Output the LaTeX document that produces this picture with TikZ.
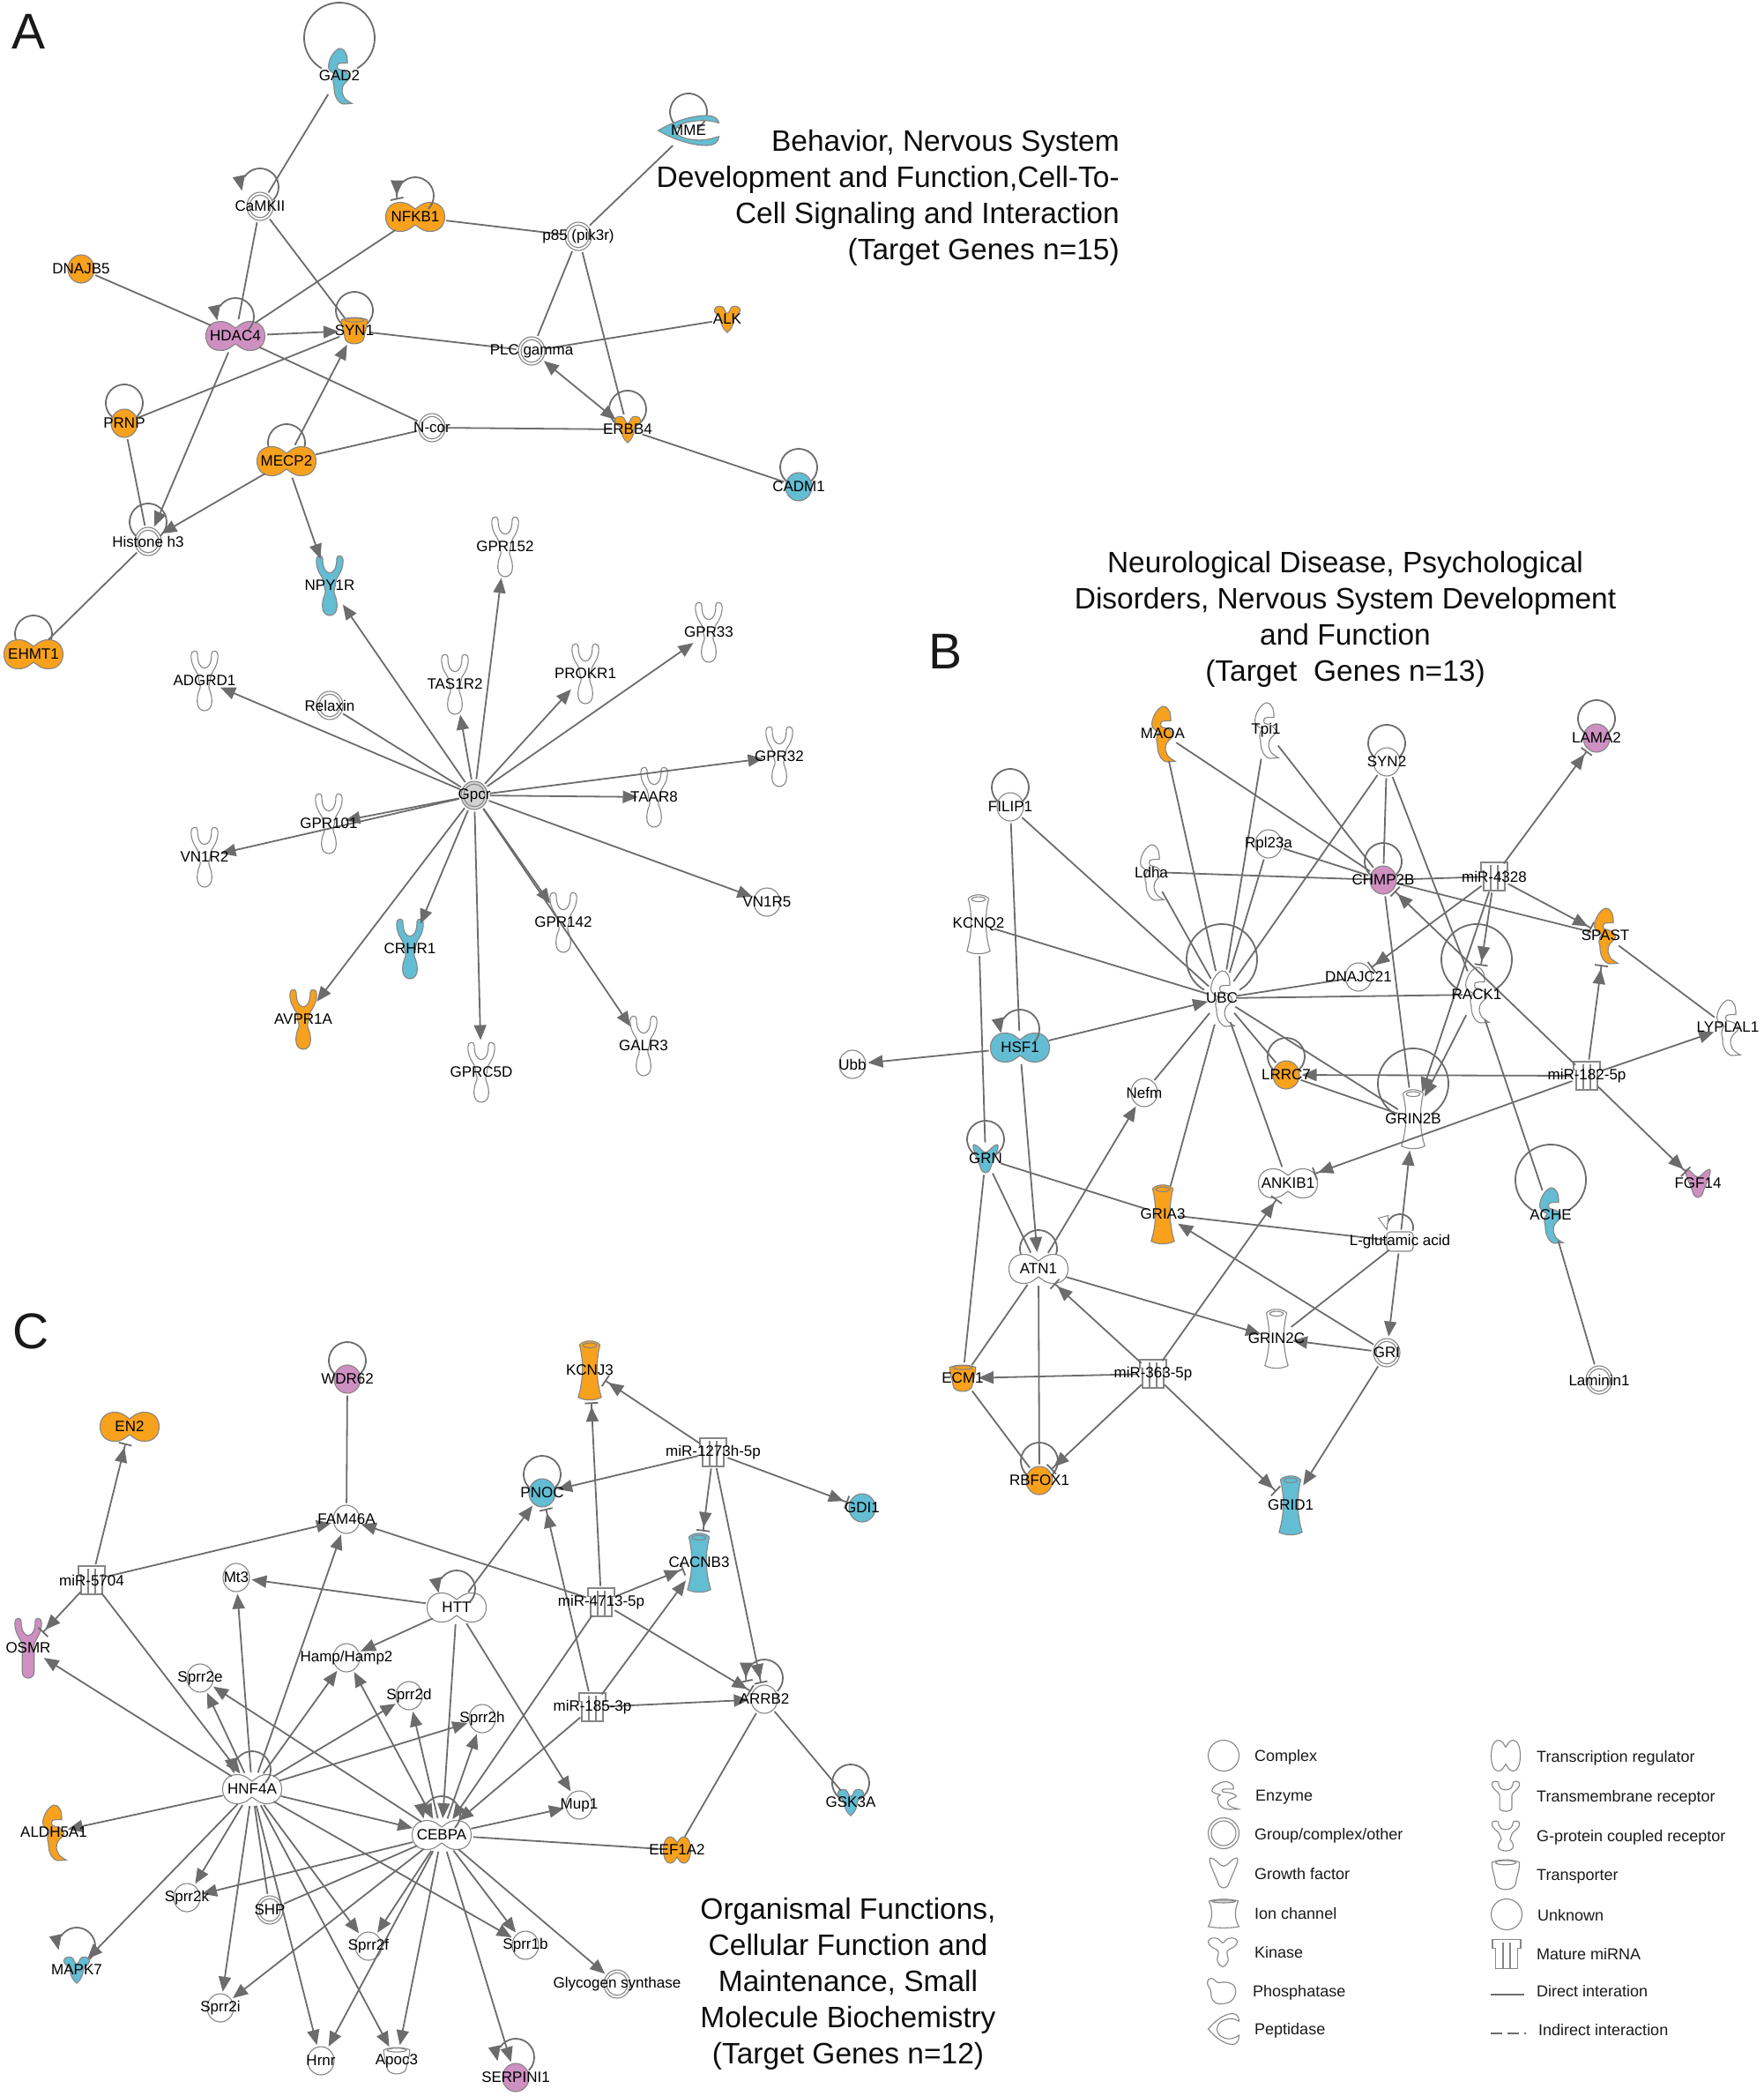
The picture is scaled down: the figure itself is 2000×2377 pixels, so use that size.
\documentclass[tikz,border=0pt]{standalone}
\usepackage{fontspec}
\setmainfont{Liberation Sans}
\usetikzlibrary{arrows.meta,bending,shapes.geometric,calc}
\definecolor{og}{HTML}{F7A11D}
\definecolor{bl}{HTML}{63BDD3}
\definecolor{pk}{HTML}{CE8FC1}
\definecolor{gy}{HTML}{D2D2D2}
\definecolor{ec}{HTML}{6C6C6C}
\definecolor{sc}{HTML}{868686}
\pgfdeclarelayer{lp}\pgfdeclarelayer{sh}\pgfdeclarelayer{ed}
\pgfsetlayers{lp,sh,ed,main}
\tikzset{
 shp/.style={draw=sc,line width=1.1pt},
 anch/.style={ellipse,inner sep=0pt,outer sep=0pt},
 lbl/.style={font=\fontsize{17}{17}\selectfont,inner sep=0pt,text=black},
 leg/.style={font=\fontsize{18}{18}\selectfont,inner sep=0pt,anchor=west,text=black!90},
 ttl/.style={font=\fontsize{33.5}{41}\selectfont,inner sep=0pt,text=black!95},
 letr/.style={font=\fontsize{57}{57}\selectfont,inner sep=0pt,text=black!90},
 ln/.style={draw=ec,line width=1.8pt},
 ar/.style={ln,-{Triangle[length=17pt,width=14pt,fill=ec]}},
 art/.style={ln,-{Triangle[length=17pt,width=14pt,fill=ec,sep=3pt] Bar[width=15pt,length=1.2pt,fill=ec]}},
 da/.style={ln,{Triangle[length=17pt,width=14pt,fill=ec]}-{Triangle[length=17pt,width=14pt,fill=ec]}},
 lpl/.style={draw=ec,line width=1.8pt},
 lar/.style={lpl,-{Triangle[length=17pt,width=14pt,fill=ec,flex=0]}},
 lat/.style={lpl,-{Triangle[length=17pt,width=14pt,fill=ec,flex=0,sep=3pt] Bar[width=15pt,length=1.2pt,fill=ec]}},
 lop/.style={lpl,-{Triangle[length=17pt,width=13pt,fill=white,color=sc,line width=1pt,flex=0]}},
}
% sizes
\def\wCir{30}\def\hCir{32}
\def\wGrp{30}\def\hGrp{32}
\def\wTR{67}\def\hTR{33}
\def\wTW{31}\def\hTW{30}
\def\wGP{32}\def\hGP{68}
\def\wTM{32}\def\hTM{68}
\def\wEnz{27}\def\hEnz{64}
\def\wIon{31}\def\hIon{68}
\def\wTra{31}\def\hTra{31}
\def\wKin{30}\def\hKin{30}
\def\wGF{31}\def\hGF{32}
\def\wPep{69}\def\hPep{34}
\def\wMi{30}\def\hMi{32}
\def\wChem{30}\def\hChem{22}
% shapes in a unit box
\newcommand{\shCir}[1]{\path[shp,fill=#1] (0,0) circle [x radius=1,y radius=1];}
\newcommand{\shGrp}[1]{\path[shp,fill=#1] (0,0) circle [x radius=1,y radius=1];\path[shp] (0,0) circle [x radius=.8,y radius=.8];}
\newcommand{\shTR}[1]{\path[shp,fill=#1] (0,-.55) .. controls (-.08,-.62) and (-.22,-1) .. (-.5,-1) .. controls (-.85,-1) and (-1,-.5) .. (-1,0) .. controls (-1,.5) and (-.85,1) .. (-.5,1) .. controls (-.22,1) and (-.08,.62) .. (0,.55) .. controls (.08,.62) and (.22,1) .. (.5,1) .. controls (.85,1) and (1,.5) .. (1,0) .. controls (1,-.5) and (.85,-1) .. (.5,-1) .. controls (.22,-1) and (.08,-.62) .. (0,-.55) -- cycle;}
\newcommand{\shTW}[1]{\shTR{#1}}
\newcommand{\shTM}[1]{\path[shp,fill=#1] (0,-.42) .. controls (-.3,-.42) and (-.5,-.6) .. (-.5,-.9) .. controls (-.5,-1.03) and (-.95,-1.03) .. (-.95,-.85) .. controls (-.95,-.4) and (-.42,-.3) .. (-.42,-.05) -- (-.42,.8) .. controls (-.42,1.07) and (.42,1.07) .. (.42,.8) -- (.42,-.05) .. controls (.42,-.3) and (.95,-.4) .. (.95,-.85) .. controls (.95,-1.03) and (.5,-1.03) .. (.5,-.9) .. controls (.5,-.6) and (.3,-.42) .. (0,-.42) -- cycle;}
\newcommand{\shGP}[1]{\path[shp,fill=#1] (0,-.42) .. controls (-.3,-.42) and (-.5,-.6) .. (-.5,-.9) .. controls (-.5,-1.03) and (-.95,-1.03) .. (-.95,-.85) .. controls (-.95,-.4) and (-.42,-.3) .. (-.42,-.1) .. controls (-.42,.05) and (-.3,.1) .. (-.3,.2) .. controls (-.3,.3) and (-.52,.4) .. (-.52,.7) .. controls (-.52,1.1) and (.52,1.1) .. (.52,.7) .. controls (.52,.4) and (.3,.3) .. (.3,.2) .. controls (.3,.1) and (.42,.05) .. (.42,-.1) .. controls (.42,-.3) and (.95,-.4) .. (.95,-.85) .. controls (.95,-1.03) and (.5,-1.03) .. (.5,-.9) .. controls (.5,-.6) and (.3,-.42) .. (0,-.42) -- cycle;}
\newcommand{\shEnz}[1]{\path[shp,fill=#1] (0,-.97) .. controls (-.45,-.9) and (-.92,-.6) .. (-.92,-.32) .. controls (-.92,-.2) and (-.6,-.1) .. (-.3,-.05) .. controls (-.6,.1) and (-.55,.3) .. (-.45,.37) .. controls (-.45,.6) and (-.35,.7) .. (-.3,.74) .. controls (-.1,.95) and (.2,1) .. (.37,1) -- (1.05,.98) .. controls (.7,.9) and (.4,.8) .. (.37,.74) .. controls (.2,.6) and (.2,.5) .. (.25,.42) .. controls (.35,.25) and (.7,.2) .. (.87,.07) .. controls (.8,-.05) and (.65,-.12) .. (.5,-.16) .. controls (.3,-.22) and (.05,-.2) .. (-.12,-.24) .. controls (-.2,-.3) and (-.2,-.38) .. (-.12,-.42) .. controls (.1,-.46) and (.4,-.45) .. (.67,-.45) .. controls (.68,-.65) and (.6,-.8) .. (.5,-.83) .. controls (.35,-.95) and (.15,-.98) .. (0,-.97) -- cycle;}
\newcommand{\shIon}[1]{\path[shp,fill=#1] (-.75,-.85) .. controls (-.4,-1.02) and (.4,-1.02) .. (.75,-.85) .. controls (.45,-.3) and (.45,.3) .. (.85,.9) .. controls (.4,1.02) and (-.4,1.02) .. (-.85,.9) .. controls (-.45,.3) and (-.45,-.3) .. (-.75,-.85) -- cycle;\path[shp] (0,-.83) circle [x radius=.5,y radius=.08];}
\newcommand{\shIonL}[1]{\path[shp,fill=#1] (-.95,-.85) .. controls (-.4,-1.02) and (.4,-1.02) .. (.95,-.85) .. controls (.7,-.3) and (.7,.4) .. (1,.9) .. controls (.4,1.02) and (-.4,1.02) .. (-1,.9) .. controls (-.7,.4) and (-.7,-.3) .. (-.95,-.85) -- cycle;\path[shp,fill=gy] (0,-.83) circle [x radius=.75,y radius=.1];}
\newcommand{\shTra}[1]{\path[shp,fill=#1] (-.95,-.8) .. controls (-.4,-1.02) and (.4,-1.02) .. (.95,-.8) .. controls (.95,-.2) and (.7,.2) .. (.7,.55) .. controls (.6,1.1) and (-.6,1.1) .. (-.7,.55) .. controls (-.7,.2) and (-.95,-.2) .. (-.95,-.8) -- cycle;\path[shp] (0,-.78) circle [x radius=.7,y radius=.14];}
\newcommand{\shKin}[1]{\path[shp,fill=#1] (0,-.45) .. controls (-.12,-.45) and (-.2,-.7) .. (-.28,-.85) .. controls (-.35,-1.05) and (-.95,-1.05) .. (-.98,-.7) .. controls (-.98,-.4) and (-.6,-.3) .. (-.5,-.05) .. controls (-.5,.3) and (-.35,.75) .. (0,1) .. controls (.35,.75) and (.5,.3) .. (.5,-.05) .. controls (.6,-.3) and (.98,-.4) .. (.98,-.7) .. controls (.95,-1.05) and (.35,-1.05) .. (.28,-.85) .. controls (.2,-.7) and (.12,-.45) .. (0,-.45) -- cycle;}
\newcommand{\shKinL}[1]{\path[shp,fill=#1] (0,-.65) .. controls (-.15,-.65) and (-.2,-1) .. (-.55,-.98) .. controls (-1,-1) and (-1.05,-.75) .. (-.95,-.55) .. controls (-.8,-.25) and (-.4,-.3) .. (-.3,-.05) .. controls (-.25,.2) and (-.45,.4) .. (-.35,.65) .. controls (-.3,.85) and (-.1,.95) .. (0,1) .. controls (.1,.95) and (.3,.85) .. (.35,.65) .. controls (.45,.4) and (.25,.2) .. (.3,-.05) .. controls (.4,-.3) and (.8,-.25) .. (.95,-.55) .. controls (1.05,-.75) and (1,-1) .. (.55,-.98) .. controls (.2,-1) and (.15,-.65) .. (0,-.65) -- cycle;}
\newcommand{\shGF}[1]{\path[shp,fill=#1] (-.85,-1) .. controls (-.5,-1) and (-.3,-.45) .. (0,-.45) .. controls (.3,-.45) and (.5,-1) .. (.85,-1) .. controls (1.1,-.9) and (.5,.2) .. (.35,.7) .. controls (.2,1.1) and (-.2,1.1) .. (-.35,.7) .. controls (-.5,.2) and (-1.1,-.9) .. (-.85,-1) -- cycle;}
\newcommand{\shPep}[1]{\path[shp,fill=#1] (-1,0) .. controls (-.5,-.6) and (.1,-1) .. (.6,-1) .. controls (.85,-1) and (1,-.75) .. (1,-.5) .. controls (.7,-.7) and (.4,-.7) .. (.1,-.6) .. controls (-.6,-.4) and (-.6,.4) .. (.1,.6) .. controls (.4,.7) and (.7,.6) .. (1,.4) .. controls (1,.75) and (.85,1) .. (.6,1) .. controls (.1,1) and (-.5,.6) .. (-1,0) -- cycle;}
\newcommand{\shPho}[1]{\path[shp,fill=#1] (-.75,-1) .. controls (-.5,-1) and (-.5,-.7) .. (-.2,-.65) .. controls (.4,-.8) and (.95,-.6) .. (.95,0) .. controls (.95,.7) and (.5,1) .. (-.1,1) .. controls (-.6,1) and (-.75,.6) .. (-.75,.1) .. controls (-.75,-.2) and (-1,-.4) .. (-1,-.65) .. controls (-1,-.85) and (-.9,-1) .. (-.75,-1) -- cycle;}
\newcommand{\shMi}[1]{\path[shp,fill=#1] (-1,-1) -- (1,-1) -- (1,-.4) -- (.8,-.4) -- (.8,1) -- (.3,1) -- (.3,-.75) -- (.25,-.75) -- (.25,1) -- (-.25,1) -- (-.25,-.75) -- (-.3,-.75) -- (-.3,1) -- (-.8,1) -- (-.8,-.4) -- (-1,-.4) -- cycle;}
\newcommand{\shChem}[1]{\path[shp,fill=#1,rounded corners=4pt] (-1,-1) rectangle (1,1);}
% shape only: type, x, y, w, h, fill
\newcommand{\gs}[6]{\begin{pgfonlayer}{sh}\begin{scope}[shift={(#2,#3)},xscale=#4/2,yscale=#5/2]\csname sh#1\endcsname{#6}\end{scope}\end{pgfonlayer}}
% node: id, x, y, type, fill, label
\newcommand{\gn}[6]{\gs{#4}{#2}{#3}{\csname w#4\endcsname}{\csname h#4\endcsname}{#5}\node[anch,minimum width={\csname w#4\endcsname pt+5pt},minimum height={\csname h#4\endcsname pt+5pt},label={[lbl]center:#6}] (#1) at (#2,#3) {};}
% self loops: id, dy, r
\newcommand{\selfl}[3]{\begin{pgfonlayer}{lp}\draw[lpl] ($(#1)+(0,#2)$) ++(120:#3) arc (120:420:#3);\end{pgfonlayer}}
\newcommand{\selfa}[3]{\begin{pgfonlayer}{ed}\draw[lar] ($(#1)+(0,#2)$) ++(45:#3) arc (45:-192:#3);\end{pgfonlayer}}
\newcommand{\selft}[3]{\begin{pgfonlayer}{ed}\draw[lat] ($(#1)+(0,#2)$) ++(45:#3) arc (45:-192:#3);\end{pgfonlayer}}
\newcommand{\selfo}[3]{\begin{pgfonlayer}{ed}\draw[lop] ($(#1)+(0,#2)$) ++(15:#3) arc (15:-195:#3);\end{pgfonlayer}}
\newcommand{\lnk}[2]{\begin{pgfonlayer}{ed}\foreach \a/\b in {#2} \draw[#1] (\a) -- (\b);\end{pgfonlayer}}
\begin{document}
\begin{tikzpicture}[x=1pt,y=-1pt]
\useasboundingbox (0,0) rectangle (2000,2377);
% ---- panel letters and titles
\node[letr] (la) at (33,36) {A};
\node[letr] (lb) at (1072,739) {B};
\node[letr] (lc) at (35,1510) {C};
\node[ttl,align=right,anchor=east] (ta) at (1270,224) {Behavior, Nervous System\\Development and Function,Cell-To-\\Cell Signaling and Interaction\\(Target Genes n=15)};
\node[ttl,align=center] (tb) at (1526,702) {Neurological Disease, Psychological\\Disorders, Nervous System Development\\and Function\\(Target\ \ Genes n=13)};
\node[ttl,align=center] (tc) at (962,2250) {Organismal Functions,\\Cellular Function and\\Maintenance, Small\\Molecule Biochemistry\\(Target Genes n=12)};
% ---- panel A
\gn{gad}{385}{86}{Enz}{bl}{GAD2}
\gn{mme}{781}{148}{Pep}{bl}{MME}
\gn{cam}{295}{234}{Grp}{white}{CaMKII}
\gn{nfkb}{471}{246}{TR}{og}{NFKB1}
\gn{dnajb}{92}{305}{Cir}{og}{DNAJB5}
\gn{pe}{656}{268}{Grp}{white}{p85 (pik3r)}
\gn{hdac}{267}{381}{TR}{pk}{HDAC4}
\gn{syn1}{402}{375}{Tra}{og}{SYN1}
\gn{plc}{603}{398}{Grp}{white}{PLC gamma}
\gn{alk}{825}{362}{Kin}{og}{ALK}
\gn{prnp}{141}{480}{Cir}{og}{PRNP}
\gn{mecp}{325}{523}{TR}{og}{MECP2}
\gn{ncor}{490}{485}{Grp}{white}{N-cor}
\gn{erbb}{712}{487}{Kin}{og}{ERBB4}
\gn{cadm}{906}{552}{Cir}{bl}{CADM1}
\gn{hthree}{168}{614}{Grp}{white}{Histone h3}
\gn{npy}{374}{664}{GP}{bl}{NPY1R}
\gn{gprb}{573}{620}{GP}{white}{GPR152}
\gn{gprc}{804}{717}{GP}{white}{GPR33}
\gn{ehmt}{38}{742}{TR}{og}{EHMT1}
\gn{adg}{232}{772}{GP}{white}{ADGRD1}
\gn{relax}{374}{800}{Grp}{white}{Relaxin}
\gn{tas}{516}{776}{GP}{white}{TAS1R2}
\gn{prok}{664}{764}{GP}{white}{PROKR1}
\gn{gprd}{884}{858}{GP}{white}{GPR32}
\gn{taar}{742}{904}{GP}{white}{TAAR8}
\gn{gpcr}{538}{902}{Grp}{gy}{Gpcr}
\gn{gpra}{373}{934}{GP}{white}{GPR101}
\gn{vntwo}{232}{972}{GP}{white}{VN1R2}
\gn{vnfive}{870}{1023}{Cir}{white}{VN1R5}
\gn{gpre}{639}{1046}{GP}{white}{GPR142}
\gn{crhr}{465}{1076}{GP}{bl}{CRHR1}
\gn{avpr}{344}{1156}{GP}{og}{AVPR1A}
\gn{gprcf}{546}{1216}{GP}{white}{GPRC5D}
\gn{galr}{730}{1186}{GP}{white}{GALR3}
\selfl{gad}{-43}{40}\selfl{mme}{-21}{21}\selfa{cam}{-22}{21}\selft{nfkb}{-24}{21}
\selfa{hdac}{-22}{21}\selfl{syn1}{-23}{21}\selfl{prnp}{-23}{21}\selfl{mecp}{-21}{21}
\selfl{erbb}{-23}{21}\selfl{cadm}{-22}{21}\selfl{hthree}{-22}{21}\selfl{ehmt}{-23}{21}
\lnk{ln}{gad/cam,cam/hdac,cam/syn1,nfkb/hdac,nfkb/pe,mme/pe,dnajb/hdac,hdac/ncor,syn1/plc,prnp/syn1,mecp/ncor,prnp/hthree,hthree/ehmt,plc/alk,pe/plc,pe/erbb,ncor/erbb,erbb/cadm,relax/gpcr}
\lnk{ar}{hdac/syn1,hdac/hthree,mecp/syn1,mecp/hthree,mecp/npy,gpcr/npy,gpcr/adg,gpcr/tas,gpcr/gprb,gpcr/prok,gpcr/gprc,gpcr/gprd,gpcr/taar,gpcr/gpra,gpcr/vntwo,gpcr/avpr,gpcr/crhr,gpcr/gprcf,gpcr/gpre,gpcr/galr,gpcr/vnfive}
\lnk{da}{plc/erbb}
% ---- panel B
\gn{maoa}{1319}{832}{Enz}{og}{MAOA}
\gn{tpi}{1436}{828}{Enz}{white}{Tpi1}
\gn{syntwo}{1573}{864}{Cir}{white}{SYN2}
\gn{lama}{1811}{837}{Cir}{pk}{LAMA2}
\gn{filip}{1146}{915}{Cir}{white}{FILIP1}
\gn{rpl}{1439}{957}{Cir}{white}{Rpl23a}
\gn{ldha}{1306}{989}{Enz}{white}{Ldha}
\gn{chmp}{1569}{998}{Cir}{pk}{CHMP2B}
\gn{mirft}{1695}{994}{Mi}{white}{miR-4328}
\gn{kcnq}{1110}{1048}{Ion}{white}{KCNQ2}
\gn{spast}{1821}{1061}{Enz}{og}{SPAST}
\gn{ubc}{1386}{1132}{Enz}{white}{UBC}
\gn{dnajc}{1541}{1108}{Cir}{white}{DNAJC21}
\gn{rack}{1675}{1128}{Enz}{white}{RACK1}
\gn{lyp}{1960}{1165}{Enz}{white}{LYPLAL1}
\gn{hsf}{1157}{1188}{TR}{bl}{HSF1}
\gn{lrrc}{1459}{1219}{Cir}{og}{LRRC7}
\gn{mirof}{1800}{1220}{Mi}{white}{miR-182-5p}
\gn{nefm}{1298}{1239}{Cir}{white}{Nefm}
\gn{grinb}{1603}{1269}{Ion}{white}{GRIN2B}
\gn{ubb}{967}{1207}{Cir}{white}{Ubb}
\gn{grn}{1118}{1314}{GF}{bl}{GRN}
\gn{ankib}{1461}{1342}{TR}{white}{ANKIB1}
\gn{fgf}{1926}{1342}{GF}{pk}{FGF14}
\gn{gria}{1319}{1377}{Ion}{og}{GRIA3}
\gn{ache}{1759}{1378}{Enz}{bl}{ACHE}
\gn{lglu}{1588}{1408}{Chem}{white}{L-glutamic acid}
\gn{atn}{1178}{1439}{TR}{white}{ATN1}
\gn{grinc}{1448}{1518}{Ion}{white}{GRIN2C}
\gn{gri}{1573}{1534}{Grp}{white}{GRI}
\gn{ecm}{1092}{1563}{Tra}{og}{ECM1}
\gn{mirts}{1308}{1558}{Mi}{white}{miR-363-5p}
\gn{lam}{1814}{1565}{Grp}{white}{Laminin1}
\gn{rbf}{1179}{1679}{Cir}{og}{RBFOX1}
\gn{grid}{1464}{1707}{Ion}{bl}{GRID1}
\gn{gdi}{978}{1710}{Cir}{bl}{GDI1}
\selfl{syntwo}{-21}{21}\selfl{lama}{-22}{21}\selfl{filip}{-22}{21}\selfl{chmp}{-21}{21}
\selfl{ubc}{-44}{40}\selfl{rack}{-40}{40}\selfa{hsf}{-21}{22}\selfl{lrrc}{-21}{21}
\selfl{grinb}{-40}{40}\selfl{grn}{-22}{21}\selfl{ache}{-40}{40}\selfo{lglu}{-16}{15}
\selfl{atn}{-23}{21}\selfl{rbf}{-22}{21}
\lnk{ln}{maoa/ubc,maoa/chmp,tpi/ubc,tpi/chmp,syntwo/ubc,syntwo/chmp,syntwo/rack,rpl/ubc,rpl/chmp,ldha/ubc,ldha/chmp,chmp/grinb,chmp/spast,lyp/spast,mirft/chmp,filip/ubc,filip/hsf,kcnq/ubc,kcnq/grn,ubc/dnajc,ubc/rack,ubc/lrrc,ubc/grinb,ubc/nefm,ubc/gria,ubc/ankib,rack/ache,lrrc/grinb,grn/gria,gria/lglu,grn/atn,grn/ecm,atn/ecm,atn/rbf,ecm/rbf,lglu/grinc,ache/lam}
\lnk{ar}{mirof/lyp,mirof/lrrc,rack/grinb,mirft/grinb,hsf/ubc,hsf/ubb,hsf/atn,atn/nefm,atn/grinc,mirts/ecm,gri/grinc,gri/gria,gri/grid,lglu/grinb,lglu/gri}
\lnk{art}{mirft/lama,mirft/spast,mirft/dnajc,mirft/rack,mirof/chmp,mirof/spast,mirof/ankib,mirof/fgf,mirts/atn,mirts/ankib,mirts/rbf,mirts/grid}
% ---- panel C
\gn{wdr}{394}{1564}{Cir}{pk}{WDR62}
\gn{kcnj}{669}{1554}{Ion}{og}{KCNJ3}
\gn{entwo}{147}{1618}{TR}{og}{EN2}
\gn{mirtw}{809}{1647}{Mi}{white}{miR-1273h-5p}
\gn{pnoc}{615}{1693}{Cir}{bl}{PNOC}
\gn{fam}{393}{1723}{Cir}{white}{FAM46A}
\gn{cacn}{793}{1772}{Ion}{bl}{CACNB3}
\gn{mirfs}{104}{1792}{Mi}{white}{miR-5704}
\gn{mtt}{268}{1789}{Cir}{white}{Mt3}
\gn{mirfo}{682}{1817}{Mi}{white}{miR-4713-5p}
\gn{htt}{518}{1823}{TR}{white}{HTT}
\gn{osmr}{32}{1869}{TM}{pk}{OSMR}
\gn{hamp}{393}{1880}{Cir}{white}{Hamp/Hamp2}
\gn{spe}{227}{1903}{Cir}{white}{Sprr2e}
\gn{spd}{464}{1923}{Cir}{white}{Sprr2d}
\gn{mirot}{672}{1936}{Mi}{white}{miR-185-3p}
\gn{arrb}{867}{1927}{Cir}{white}{ARRB2}
\gn{sph}{547}{1949}{Cir}{white}{Sprr2h}
\gn{hnf}{286}{2029}{TR}{white}{HNF4A}
\gn{ceb}{501}{2081}{TR}{white}{CEBPA}
\gn{gsk}{965}{2044}{Kin}{bl}{GSK3A}
\gn{mup}{657}{2047}{Cir}{white}{Mup1}
\gn{aldh}{61}{2078}{Enz}{og}{ALDH5A1}
\gn{eef}{768}{2098}{TW}{og}{EEF1A2}
\gn{spk}{212}{2152}{Cir}{white}{Sprr2k}
\gn{shp}{306}{2166}{Grp}{white}{SHP}
\gn{mapk}{87}{2234}{Kin}{bl}{MAPK7}
\gn{spf}{418}{2207}{Cir}{white}{Sprr2f}
\gn{spb}{596}{2206}{Cir}{white}{Sprr1b}
\gn{gly}{700}{2250}{Grp}{white}{Glycogen synthase}
\gn{spi}{250}{2277}{Cir}{white}{Sprr2i}
\gn{hrnr}{364}{2337}{Cir}{white}{Hrnr}
\gn{apoc}{450}{2337}{Tra}{white}{Apoc3}
\gn{serp}{585}{2356}{Cir}{pk}{SERPINI1}
\selfl{wdr}{-21}{21}\selfl{pnoc}{-21}{21}\selfa{htt}{-21}{21}\selft{arrb}{-24}{21}
\selfa{hnf}{-22}{21}\selfa{ceb}{-23}{21}\selfl{gsk}{-22}{21}\selfa{mapk}{-27}{21}\selfa{serp}{-23}{21}
\lnk{ln}{wdr/fam,arrb/eef,arrb/gsk,hnf/shp,ceb/eef,ceb/shp}
\lnk{ar}{mirfs/fam,htt/pnoc,htt/mtt,htt/hamp,htt/ceb,htt/mup,mirtw/pnoc,mirfo/fam,mirfo/ceb,mirot/cacn,mirot/arrb,mirot/ceb,mirfs/hnf,hnf/mtt,hnf/fam,hnf/osmr,hnf/spe,hnf/hamp,hnf/spd,hnf/sph,hnf/aldh,hnf/ceb,hnf/spk,hnf/mapk,hnf/spi,hnf/hrnr,hnf/apoc,hnf/spf,hnf/spb,ceb/spe,ceb/spd,ceb/sph,ceb/mup,ceb/spk,ceb/spi,ceb/spf,ceb/hrnr,ceb/apoc,ceb/spb,ceb/gly,ceb/serp}
\lnk{art}{mirfs/entwo,mirfs/osmr,mirtw/kcnj,mirtw/gdi,mirtw/cacn,mirtw/arrb,mirfo/kcnj,mirfo/cacn,mirfo/arrb,mirot/pnoc}
\lnk{da}{hamp/ceb}
% ---- legend
\gs{Cir}{1388}{1991}{35}{35}{white}
\gs{Enz}{1389}{2036}{31}{32}{white}
\gs{Grp}{1388}{2079}{35}{35}{white}
\gs{GF}{1388}{2124}{35}{34}{white}
\gs{IonL}{1388}{2170}{35}{33}{white}
\gs{KinL}{1387}{2214}{33}{33}{white}
\gs{Pho}{1386}{2258}{33}{29}{white}
\gs{Pep}{1388}{2301}{35}{35}{white}
\gs{TR}{1708}{1991}{33}{35}{white}
\gs{TM}{1708}{2037}{33}{34}{white}
\gs{GP}{1708}{2082}{33}{34}{white}
\gs{Tra}{1708}{2126}{33}{35}{white}
\gs{Cir}{1709}{2171}{35}{35}{white}
\gs{Mi}{1709}{2216}{32}{33}{white}
\node[leg] (l1) at (1423,1993) {Complex};
\node[leg] (l2) at (1424,2038) {Enzyme};
\node[leg] (l3) at (1423,2082) {Group/complex/other};
\node[leg] (l4) at (1423,2125) {Growth factor};
\node[leg] (l5) at (1423,2170) {Ion channel};
\node[leg] (l6) at (1423,2214) {Kinase};
\node[leg] (l7) at (1421,2260) {Phosphatase};
\node[leg] (l8) at (1423,2303) {Peptidase};
\node[leg] (r1) at (1743,1994) {Transcription regulator};
\node[leg] (r2) at (1743,2039) {Transmembrane receptor};
\node[leg] (r3) at (1743,2084) {G-protein coupled receptor};
\node[leg] (r4) at (1743,2128) {Transporter};
\node[leg] (r5) at (1744,2172) {Unknown};
\node[leg] (r6) at (1743,2216) {Mature miRNA};
\node[leg] (r7) at (1743,2258) {Direct interation};
\node[leg] (r8) at (1745,2302) {Indirect interaction};
\coordinate (da) at (1691,2262);\coordinate (db) at (1729,2262);
\coordinate (ia) at (1691,2306);\coordinate (ib) at (1731,2306);
\draw[draw=ec,line width=2pt] (da) -- (db);
\draw[draw=ec,line width=2pt,dash pattern=on 13pt off 6pt] (ia) -- (ib);
\end{tikzpicture}
\end{document}
